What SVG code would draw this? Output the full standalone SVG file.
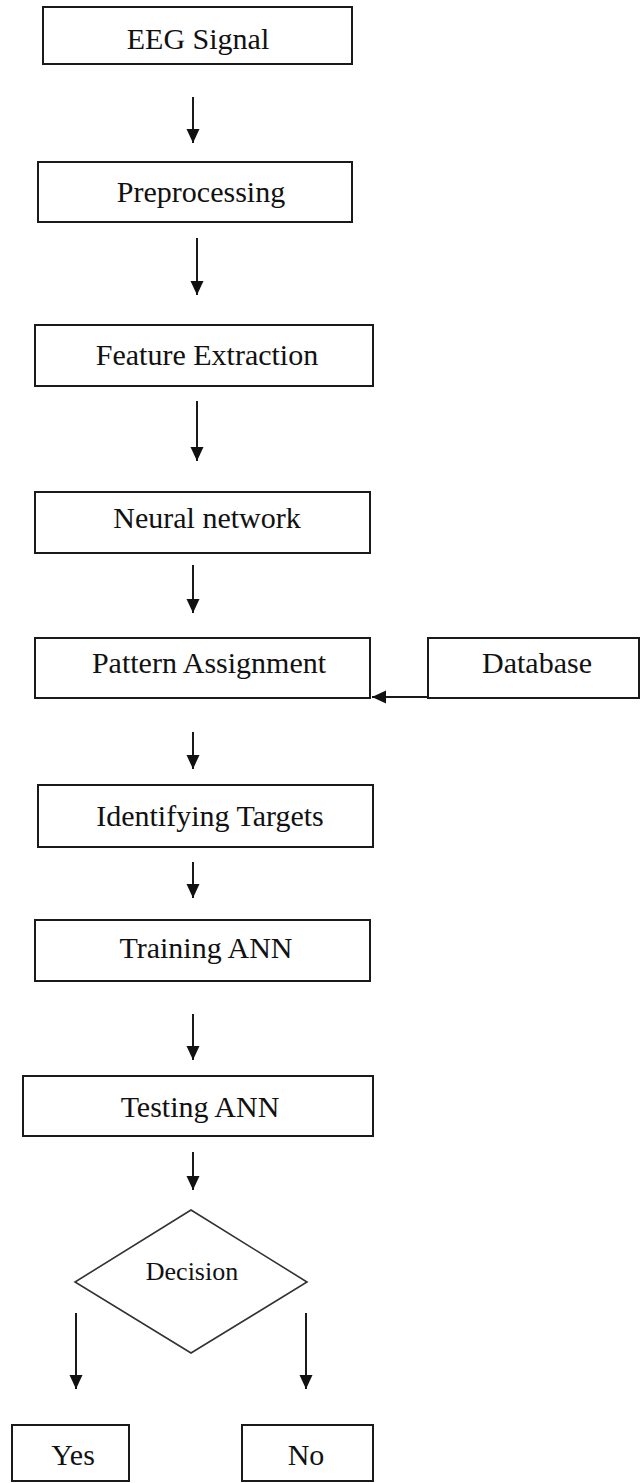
<svg xmlns="http://www.w3.org/2000/svg" width="643" height="1483" viewBox="0 0 643 1483">
  <style>
    .box { fill: #ffffff; stroke: #1a1a1a; stroke-width: 2; }
    .diamond { fill: #ffffff; stroke: #333333; stroke-width: 1.6; }
    .label { font-family: "Liberation Serif", "Times New Roman", serif; font-size: 30px; fill: #111111; text-anchor: middle; }
    .small { font-size: 26px; }
    .conn { stroke: #1a1a1a; stroke-width: 2; fill: none; marker-end: url(#head); }
  </style>
  <defs>
    <marker id="head" markerUnits="userSpaceOnUse" markerWidth="14" markerHeight="14" viewBox="0 0 14 14" refX="14" refY="7" orient="auto">
      <path d="M0,0.5 L14,7 L0,13.5 Z" fill="#111111"/>
    </marker>
  </defs>
  <rect width="643" height="1483" fill="#ffffff"/>

  <!-- flow connectors -->
  <g id="connectors">
    <line class="conn" x1="193" y1="97" x2="193" y2="143"/>
    <line class="conn" x1="197" y1="238" x2="197" y2="295"/>
    <line class="conn" x1="197" y1="401" x2="197" y2="461"/>
    <line class="conn" x1="193" y1="565" x2="193" y2="613"/>
    <line class="conn" x1="428" y1="697" x2="372" y2="697"/>
    <line class="conn" x1="193" y1="732" x2="193" y2="769"/>
    <line class="conn" x1="193" y1="862" x2="193" y2="898"/>
    <line class="conn" x1="193" y1="1014" x2="193" y2="1060"/>
    <line class="conn" x1="193" y1="1152" x2="193" y2="1190"/>
    <line class="conn" x1="76" y1="1313" x2="76" y2="1389"/>
    <line class="conn" x1="306" y1="1313" x2="306" y2="1389"/>
  </g>

  <g id="eeg-signal">
    <rect class="box" x="43" y="7" width="309" height="57"/>
    <text class="label" x="198" y="49">EEG Signal</text>
  </g>

  <g id="preprocessing">
    <rect class="box" x="38" y="162" width="314" height="60"/>
    <text class="label" x="201" y="202">Preprocessing</text>
  </g>

  <g id="feature-extraction">
    <rect class="box" x="35" y="325" width="338" height="61"/>
    <text class="label" x="207" y="365">Feature Extraction</text>
  </g>

  <g id="neural-network">
    <rect class="box" x="35" y="492" width="335" height="61"/>
    <text class="label" x="207" y="528">Neural network</text>
  </g>

  <g id="pattern-assignment">
    <rect class="box" x="35" y="638" width="335" height="60"/>
    <text class="label" x="209" y="673">Pattern Assignment</text>
  </g>

  <g id="database">
    <rect class="box" x="428" y="638" width="211" height="60"/>
    <text class="label" x="537" y="673">Database</text>
  </g>

  <g id="identifying-targets">
    <rect class="box" x="38" y="785" width="335" height="62"/>
    <text class="label" x="210" y="826">Identifying Targets</text>
  </g>

  <g id="training-ann">
    <rect class="box" x="35" y="920" width="335" height="61"/>
    <text class="label" x="206" y="958">Training ANN</text>
  </g>

  <g id="testing-ann">
    <rect class="box" x="23" y="1076" width="350" height="60"/>
    <text class="label" x="200" y="1117">Testing ANN</text>
  </g>

  <g id="decision">
    <polygon class="diamond" points="191,1210 307,1282 191,1353 75,1282"/>
    <text class="label small" x="192" y="1280">Decision</text>
  </g>

  <g id="yes">
    <rect class="box" x="12" y="1425" width="117" height="56"/>
    <text class="label" x="73" y="1465">Yes</text>
  </g>

  <g id="no">
    <rect class="box" x="242" y="1425" width="131" height="56"/>
    <text class="label" x="306" y="1465">No</text>
  </g>
</svg>
